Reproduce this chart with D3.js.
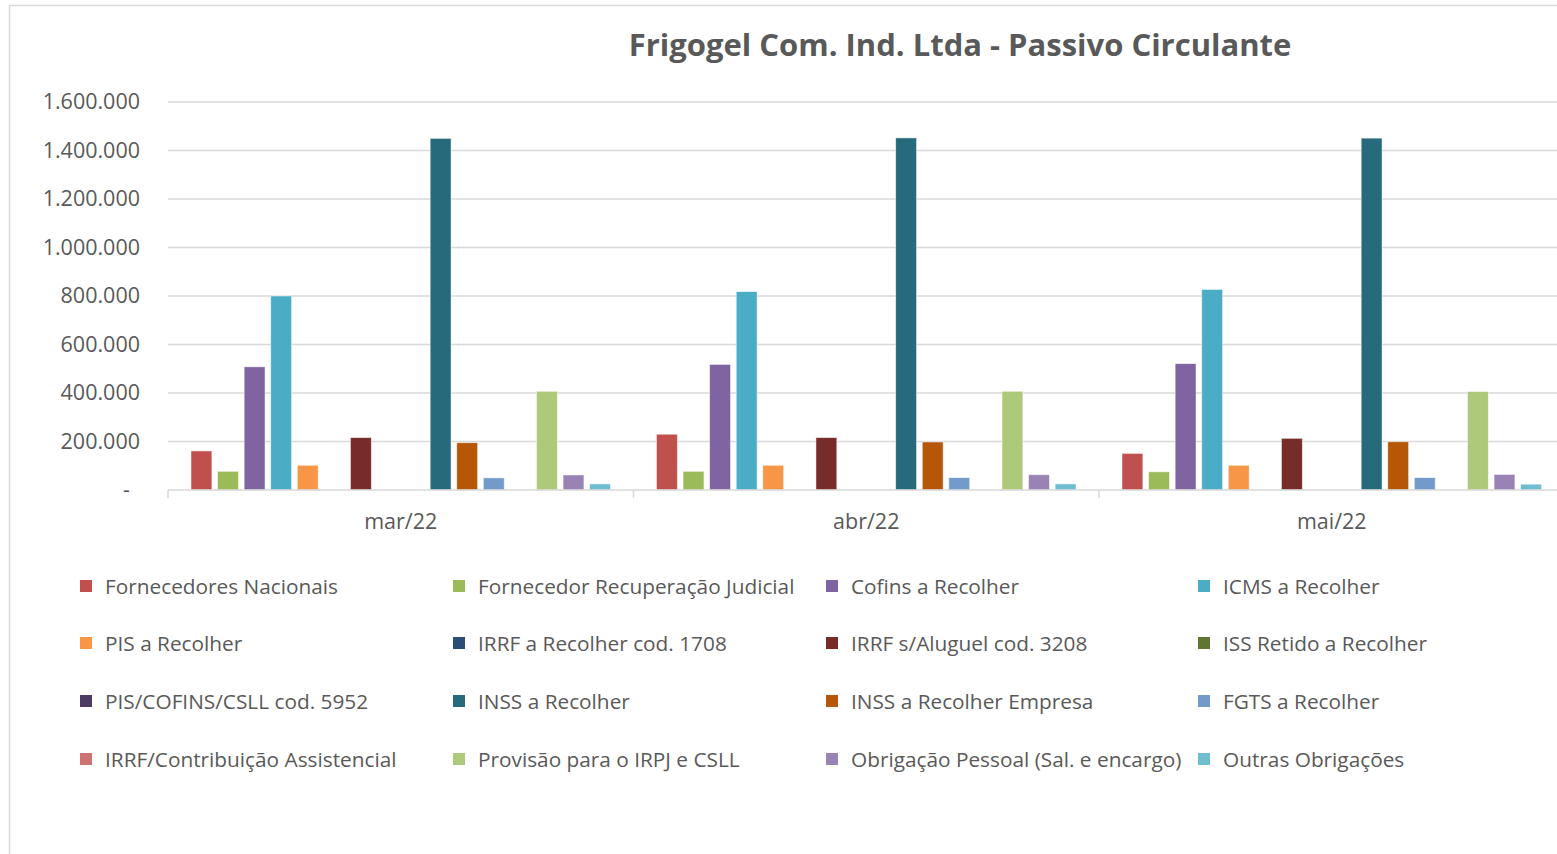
<!DOCTYPE html>
<html>
<head>
<meta charset="utf-8">
<script src="https://cdn.jsdelivr.net/npm/d3@7"></script>
<style>
  body { margin: 0; background: #fff; }
  text { font-family: "Open Sans", "Noto Sans", sans-serif; fill: #595959; }
</style>
</head>
<body>
<div id="chart"></div>
<script>
// meses
var meses = ["mar/22", "abr/22", "mai/22"];

// nomes das contas (ordem da legenda)
var contas = [
    "Fornecedores Nacionais", "Fornecedor Recuperação Judicial", "Cofins a Recolher", "ICMS a Recolher",
    "PIS a Recolher", "IRRF a Recolher cod. 1708", "IRRF s/Aluguel cod. 3208", "ISS Retido a Recolher",
    "PIS/COFINS/CSLL cod. 5952", "INSS a Recolher", "INSS a Recolher Empresa", "FGTS a Recolher",
    "IRRF/Contribuição Assistencial", "Provisão para o IRPJ e CSLL", "Obrigação Pessoal (Sal. e encargo)", "Outras Obrigações"
];

var cores = [
    "#C0504D", "#9BBB59", "#8064A2", "#4BACC6",
    "#F79646", "#2C4D75", "#772C2A", "#5F7530",
    "#4D3B62", "#276A7C", "#B65708", "#729ACA",
    "#CD7371", "#AFC97A", "#9983B5", "#6FBDD1"
];

// valores por mes, mesma ordem das contas
var valoresMar = [161000, 77000, 508000, 800000, 102000, 0, 216000, 0, 0, 1450000, 195000, 50000, 0, 407000, 62000, 25000];
var valoresAbr = [230000, 77000, 518000, 818000, 102000, 0, 216000, 0, 0, 1452000, 198000, 51000, 0, 407000, 63000, 25000];
var valoresMai = [151000, 75000, 521000, 827000, 102000, 0, 213000, 0, 0, 1451000, 199000, 51000, 0, 406000, 64000, 24000];

var yTicks = [0, 200000, 400000, 600000, 800000, 1000000, 1200000, 1400000, 1600000];

var valores = [valoresMar, valoresAbr, valoresMai];

var width = 1557;
var height = 854;

var svg = d3.select("#chart")
    .append("svg")
    .attr("width", width)
    .attr("height", height);

// moldura do grafico
svg.append("rect")
    .attr("x", 9.5)
    .attr("y", 5.5)
    .attr("width", 1600)
    .attr("height", 1000)
    .attr("fill", "none")
    .style("stroke", "#d9d9d9")
    .style("stroke-width", 1.5);

svg.append("text")
    .attr("x", 960)
    .attr("y", 56)
    .attr("text-anchor", "middle")
    .style("font-size", "31px")
    .style("font-weight", "bold")
    .text("Frigogel Com. Ind. Ltda - Passivo Circulante");

var x0 = d3.scaleBand()
    .domain(meses)
    .range([168, 168 + 3 * 465.5]);

var x1 = d3.scaleBand()
    .domain(contas)
    .range([23, 465.5 - 23])
    .paddingInner(0.215);

var y = d3.scaleLinear()
    .domain([0, 1600000])
    .range([490, 102]);

var br = d3.formatLocale({ decimal: ",", thousands: ".", grouping: [3], currency: ["R$", ""] });
var fmt = br.format(",.0f");

// linhas de grade
svg.append("g")
    .selectAll("line")
    .data(yTicks.slice(1))
    .enter()
    .append("line")
    .attr("x1", 168)
    .attr("x2", width)
    .attr("y1", d => y(d))
    .attr("y2", d => y(d))
    .style("stroke", "#d9d9d9")
    .style("stroke-width", 1.5);

// eixo y
var yAxis = svg.append("g")
    .attr("transform", "translate(140,0)")
    .call(d3.axisLeft(y).tickValues(yTicks).tickSize(0).tickPadding(0)
        .tickFormat(d => d === 0 ? "-" : fmt(d)));
yAxis.select(".domain").remove();
yAxis.selectAll("text")
    .attr("x", d => d === 0 ? -10 : 0)
    .style("font-size", "21.5px")
    .style("fill", "#595959");

// barras
var grupos = svg.append("g")
    .selectAll("g")
    .data(meses)
    .enter()
    .append("g")
    .attr("transform", d => "translate(" + x0(d) + ",0)");

grupos.selectAll("rect")
    .data((m, i) => contas.map((c, j) => ({ conta: c, valor: valores[i][j], cor: cores[j] })))
    .enter()
    .filter(d => d.valor > 0)
    .append("rect")
    .attr("x", d => x1(d.conta))
    .attr("y", d => y(d.valor))
    .attr("width", x1.bandwidth())
    .attr("height", d => y(0) - y(d.valor))
    .attr("fill", d => d.cor)
    .style("stroke", "#ffffff")
    .style("stroke-opacity", 0.6)
    .style("stroke-width", 0.8);

// eixo x
var xAxis = svg.append("g")
    .attr("transform", "translate(0,490)");
xAxis.append("line")
    .attr("x1", 168)
    .attr("x2", width)
    .style("stroke", "#d9d9d9")
    .style("stroke-width", 1.5);
xAxis.selectAll("line.sep")
    .data(meses)
    .enter()
    .append("line")
    .attr("class", "sep")
    .attr("x1", d => x0(d))
    .attr("x2", d => x0(d))
    .attr("y1", 0)
    .attr("y2", 8)
    .style("stroke", "#d9d9d9")
    .style("stroke-width", 1.5);
xAxis.selectAll("text")
    .data(meses)
    .enter()
    .append("text")
    .attr("x", d => x0(d) + x0.bandwidth() / 2)
    .attr("y", 39)
    .attr("text-anchor", "middle")
    .style("font-size", "21.5px")
    .text(d => d);

// legenda
var colX = [80, 453, 826, 1198];
var rowY = [586, 643, 701, 759];
var legenda = svg.append("g")
    .selectAll("g")
    .data(contas)
    .enter()
    .append("g")
    .attr("transform", (d, i) => "translate(" + colX[i % 4] + "," + rowY[Math.floor(i / 4)] + ")");
legenda.append("rect")
    .attr("x", 0)
    .attr("y", -6)
    .attr("width", 12)
    .attr("height", 12)
    .attr("fill", (d, i) => cores[i]);
legenda.append("text")
    .attr("x", 25)
    .attr("y", 7.5)
    .style("font-size", "20.8px")
    .text(d => d);
</script>
</body>
</html>
